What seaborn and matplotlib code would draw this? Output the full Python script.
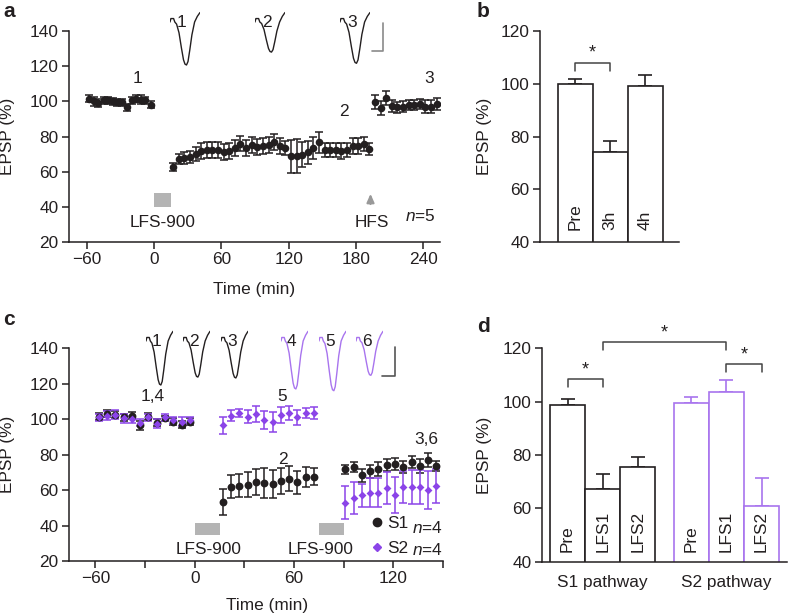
import numpy as np
import pandas as pd
import matplotlib
matplotlib.use("Agg")
import matplotlib.pyplot as plt
from matplotlib.patches import Rectangle
from matplotlib.lines import Line2D
import seaborn as sns

# ---------------- data ----------------
# panel a : time course (min) and EPSP (%)
a_pre_t = [-58, -54, -50, -45, -41, -37, -33, -29, -24, -20, -16, -12, -8, -3]
a_pre_y = [101.5, 100, 99, 100.5, 100.5, 100, 99.5, 99.5, 96.5, 100.5, 101.5, 101, 100.5, 98]
a_pre_e = [2, 2.5, 2.5, 2, 2, 2, 2, 2, 2, 2, 2, 2.5, 2, 2]
a_lfs_t = [17, 22, 27, 32, 37, 42, 47, 52, 57, 62, 67, 72, 77, 82, 87, 92, 97, 102,
           107, 112, 117, 122, 127, 132, 137, 142, 147, 152, 157, 162, 167, 172, 177, 182, 187, 192]
a_lfs_y = [62.7, 67.2, 67.8, 68.3, 70.2, 71.6, 72.1, 72.5, 72.1, 71, 71.6, 73.5, 76, 73.5, 75.4, 74,
           74.8, 75.4, 76.7, 74.8, 73.5, 68.7, 69, 69.7, 71, 73.5, 76.7, 72.5, 72.5, 72.5, 71.6, 72.5,
           74.4, 74.8, 76, 72.9]
a_lfs_e = [2.5, 3, 3.5, 3.5, 4, 4.5, 4.5, 4.5, 4.5, 4.5, 4.5, 4.5, 4.5, 4.5, 4.5, 4.5, 4.5, 4.5,
           4.5, 4.5, 4, 9.5, 9.5, 7, 6.5, 6.5, 6, 4, 4, 4, 4.5, 4, 4.5, 4.5, 4, 3.5]
a_hfs_t = [197, 202, 207, 212, 217, 222, 227, 232, 237, 242, 247, 252]
a_hfs_y = [99.5, 96, 102, 97.5, 96.5, 97, 98, 98, 98.5, 97, 97, 98.5]
a_hfs_e = [4, 4, 4, 3.5, 3, 3, 3, 3, 3, 3.5, 3.5, 3.5]
a_lfs_window = (0, 15)
a_hfs_time = 193

# panel b : bar summary
b_labels = ["Pre", "3h", "4h"]
b_vals = [99.8, 74.0, 99.1]
b_errs = [2.1, 4.4, 4.1]

# panel c : two pathways
c_pre_t = [-58, -53, -48, -43, -38, -33, -28, -23, -18, -13, -8, -3]
c_s1_pre = [101.5, 103, 102.5, 101, 102, 96.5, 101.5, 98, 100.5, 98.5, 97, 98.5]
c_s1_pre_e = [2, 2, 2, 2, 2, 2.5, 2, 2, 1.5, 2, 2, 2]
c_s2_pre = [101, 102, 102.5, 100.5, 100, 98, 101, 97.5, 101, 99.5, 98.5, 99.5]
c_s2_pre_e = [2, 2.5, 2.5, 2.5, 2, 2, 2, 2.5, 2, 2, 2.5, 2]
c_l1_t = [17, 22, 27, 32, 37, 42, 47, 52, 57, 62, 67, 72]
c_s1_l1 = [53.2, 62, 62.4, 63, 64.5, 63.8, 63.3, 65.2, 66.4, 64.5, 67.3, 67.6]
c_s1_l1_e = [7.3, 6.5, 6.5, 7, 7.5, 8.5, 8, 7.5, 7, 6.5, 5.5, 5]
c_s2_l1 = [96.5, 102, 103.5, 101.5, 103, 99.5, 98.5, 102.5, 103.5, 101, 103.5, 103.5]
c_s2_l1_e = [5, 3, 2.5, 3.5, 4.5, 5, 5.5, 4.5, 4, 4, 3, 3.5]
c_l2_t = [91, 96, 101, 106, 111, 116, 121, 126, 131, 136, 141, 146]
c_s1_l2 = [71.8, 73, 68.3, 70.5, 71.8, 74, 74.8, 73, 75.8, 73.5, 77, 73.5]
c_s1_l2_e = [2.5, 3, 3.5, 3.5, 4, 3.5, 3.5, 3.5, 3.5, 4, 4, 3]
c_s2_l2 = [53, 55.5, 57, 58.6, 58.6, 61, 57.2, 62, 61.6, 61.6, 60, 62.4]
c_s2_l2_e = [9.5, 9, 6.5, 8, 8, 9, 10, 9, 9.5, 9.5, 10.5, 9.5]
c_lfs_windows = [(0, 15), (75, 90)]

# panel d : bar summary per pathway
d_pathways = ["S1 pathway", "S2 pathway"]
d_conds = ["Pre", "LFS1", "LFS2"]
d_s1_vals = [98.7, 67.2, 75.4]
d_s1_errs = [2.4, 5.7, 4.0]
d_s2_vals = [99.6, 103.6, 60.9]
d_s2_errs = [2.3, 4.5, 10.4]

# inset EPSP waveform (normalised) and relative amplitudes
wf_t = [0.00, 0.03, 0.12, 0.16, 0.22, 0.30, 0.38, 0.45, 0.50, 0.55, 0.60, 0.66, 0.73, 0.82, 0.91, 1.00]
wf_v = [0.00, 0.08, 0.08, 0.00, -0.05, -0.25, -0.60, -0.88, -0.98, -1.00, -0.92, -0.65, -0.30, 0.00, 0.13, 0.22]
a_trace_amp = [1.0, 0.70, 0.96]
c_trace_amp = [1.0, 0.82, 0.84, 1.09, 1.13, 0.78]

# ---------------- style ----------------
sns.set_style("ticks")
plt.rcParams["font.family"] = ["Liberation Sans", "DejaVu Sans"]
plt.rcParams["mathtext.fontset"] = "custom"
plt.rcParams["mathtext.it"] = "Liberation Sans:italic"
plt.rcParams["mathtext.rm"] = "Liberation Sans"

INK = "#231f20"
PURPLE = "#8b44e8"
PURPLE_L = "#a874ee"
GRAY = "#b4b4b4"
FS = 12.4

W, H = 788, 615
fig = plt.figure(figsize=(W / 100, H / 100), dpi=100)


def rect(l, t, r, b):
    return [l / W, 1 - b / H, (r - l) / W, (b - t) / H]


def style(ax):
    sns.despine(ax=ax)
    for s in ("left", "bottom"):
        ax.spines[s].set_linewidth(1.1)
        ax.spines[s].set_color(INK)
    ax.tick_params(length=5, width=1.1, color=INK, labelsize=FS, pad=2.5, labelcolor=INK)


def errbars(ax, t, y, e, color, capsize=2.6):
    ax.errorbar(t, y, yerr=e, fmt="none", ecolor=color, elinewidth=1.1,
                capsize=capsize, capthick=1.1, zorder=2)


def traces(left_list, width, base, amp_px, amps, colors, labels):
    for left, amp, col, lab in zip(left_list, amps, colors, labels):
        top = base - 0.4 * amp_px
        bot = base + 1.2 * amp_px
        ia = fig.add_axes(rect(left, top, left + width, bot))
        v = np.array(wf_v)
        v = np.where(v < 0, v * amp, v)
        ia.plot(wf_t, v, color=col, lw=1.0)
        ia.set_xlim(0, 1)
        ia.set_ylim(-1.2, 0.4)
        ia.axis("off")
        ia.patch.set_alpha(0)
        ia.text(0.40, -0.02, lab, ha="center", va="center", fontsize=FS, color=INK)


# ---------------- panel a ----------------
axa = fig.add_axes(rect(69, 31, 440, 242))
df_a = pd.DataFrame({"t": a_pre_t + a_lfs_t + a_hfs_t, "y": a_pre_y + a_lfs_y + a_hfs_y,
                     "e": a_pre_e + a_lfs_e + a_hfs_e})
errbars(axa, df_a["t"], df_a["y"], df_a["e"], INK)
sns.scatterplot(data=df_a, x="t", y="y", color=INK, s=30, linewidth=0, ax=axa, zorder=3)
axa.set_xlim(-76, 255)
axa.set_ylim(20, 140)
axa.set_xticks([-60, 0, 60, 120, 180, 240])
axa.set_yticks(range(20, 141, 20))
style(axa)
axa.set_xlabel("Time (min)", fontsize=FS, color=INK)
axa.set_ylabel("EPSP (%)", fontsize=FS, color=INK)
axa.xaxis.set_label_coords(0.5, -0.19)
axa.yaxis.set_label_coords(-0.146, 0.5)
axa.add_patch(Rectangle((a_lfs_window[0], 40), a_lfs_window[1] - a_lfs_window[0], 8,
                        color=GRAY, lw=0))
axa.text(7.5, 31, "LFS-900", ha="center", va="center", fontsize=FS, color=INK)
axa.annotate("", xy=(a_hfs_time, 49), xytext=(a_hfs_time, 40),
             arrowprops=dict(arrowstyle="-|>,head_length=0.5,head_width=0.22", color="#999999", lw=1.5))
axa.text(194, 31, "HFS", ha="center", va="center", fontsize=FS, color=INK)
axa.text(237, 35, r"$\mathit{n}$=5", ha="center", va="center", fontsize=FS, color=INK)
axa.text(-15, 113, "1", ha="center", va="center", fontsize=FS, color=INK)
axa.text(169, 94, "2", ha="center", va="center", fontsize=FS, color=INK)
axa.text(245, 113, "3", ha="center", va="center", fontsize=FS, color=INK)
traces([170, 255, 340], 30, 22, 43, a_trace_amp, [INK] * 3, ["1", "2", "3"])
fig.add_artist(Line2D([372 / W, 383 / W, 383 / W], [1 - 51 / H, 1 - 51 / H, 1 - 23 / H],
                      color="#8a8a8a", lw=1.2))
fig.text(3 / W, 1 - 17 / H, "a", fontsize=15, fontweight="bold", va="baseline", color=INK)

# ---------------- panel b ----------------
axb = fig.add_axes(rect(540, 31, 679, 242))
df_b = pd.DataFrame({"cond": b_labels, "val": b_vals})
sns.barplot(data=df_b, x="cond", y="val", color="white", edgecolor=INK, linewidth=1.2,
            width=1.0, errorbar=None, ax=axb, zorder=1)
xs_b = [p.get_x() + p.get_width() / 2 for p in axb.patches]
axb.errorbar(xs_b, b_vals, yerr=[[0] * 3, b_errs], fmt="none", ecolor=INK, elinewidth=1.2,
             capsize=5, capthick=1.2, zorder=0)
axb.set_xlim(-1.0, 2.97)
axb.set_ylim(40, 120)
axb.set_yticks(range(40, 121, 20))
style(axb)
axb.set_xticks([])
axb.set_xlabel("")
axb.set_ylabel("EPSP (%)", fontsize=FS, color=INK)
axb.yaxis.set_label_coords(-0.345, 0.5)
for x, lab in zip(xs_b, b_labels):
    axb.text(x, 44.5, lab, rotation=90, ha="center", va="bottom", fontsize=FS, color=INK)
axb.plot([xs_b[0], xs_b[0], xs_b[1], xs_b[1]], [104.8, 107.7, 107.7, 104.8], color="#444", lw=1.1)
axb.text((xs_b[0] + xs_b[1]) / 2, 108.3, "*", ha="center", va="bottom", fontsize=13, color=INK)
fig.text(477 / W, 1 - 16.7 / H, "b", fontsize=15, fontweight="bold", va="baseline", color=INK)

# ---------------- panel c ----------------
axc = fig.add_axes(rect(69, 348.3, 443, 561))
df_c1 = pd.DataFrame({"t": c_pre_t + c_l1_t + c_l2_t, "y": c_s1_pre + c_s1_l1 + c_s1_l2,
                      "e": c_s1_pre_e + c_s1_l1_e + c_s1_l2_e})
df_c2 = pd.DataFrame({"t": c_pre_t + c_l1_t + c_l2_t, "y": c_s2_pre + c_s2_l1 + c_s2_l2,
                      "e": c_s2_pre_e + c_s2_l1_e + c_s2_l2_e})
errbars(axc, df_c1["t"], df_c1["y"], df_c1["e"], INK, capsize=2.8)
sns.scatterplot(data=df_c1, x="t", y="y", color=INK, s=32, linewidth=0, ax=axc, zorder=3)
errbars(axc, df_c2["t"], df_c2["y"], df_c2["e"], PURPLE, capsize=2.8)
sns.scatterplot(data=df_c2, x="t", y="y", color=PURPLE, marker="D", s=16, linewidth=0, ax=axc, zorder=4)
axc.set_xlim(-76, 150)
axc.set_ylim(20, 140)
axc.set_xticks(range(-60, 151, 30))
axc.set_xticklabels(["\u221260", "", "0", "", "60", "", "120", ""])
axc.set_yticks(range(20, 141, 20))
style(axc)
axc.set_xlabel("Time (min)", fontsize=FS, color=INK)
axc.set_ylabel("EPSP (%)", fontsize=FS, color=INK)
axc.xaxis.set_label_coords(0.53, -0.175)
axc.yaxis.set_label_coords(-0.144, 0.5)
for (t0, t1), tx in zip(c_lfs_windows, [8.3, 76]):
    axc.add_patch(Rectangle((t0, 34.7), t1 - t0, 7, color=GRAY, lw=0))
    axc.text(tx, 26.7, "LFS-900", ha="center", va="center", fontsize=FS, color=INK)
axc.text(-25.7, 112.7, "1,4", ha="center", va="center", fontsize=FS, color=INK)
axc.text(53, 112.7, "5", ha="center", va="center", fontsize=FS, color=INK)
axc.text(53, 77.4, "2", ha="center", va="center", fontsize=FS, color=INK)
axc.text(140, 88.3, "3,6", ha="center", va="center", fontsize=FS, color=INK)
leg = axc.legend(handles=[Line2D([], [], marker="o", ls="", color=INK, markersize=6),
                          Line2D([], [], marker="D", ls="", color=PURPLE, markersize=4)],
                 labels=["S1", "S2"], loc="upper left", bbox_to_anchor=(372 / W, 1 - 516 / H),
                 bbox_transform=fig.transFigure, frameon=False, fontsize=FS, handlelength=0.6,
                 handletextpad=0.3, labelspacing=0.56, borderpad=0, borderaxespad=0)
for txt in leg.get_texts():
    txt.set_color(INK)
axc.text(150, 38.5, r"$\mathit{n}$=4", ha="right", va="center", fontsize=FS, color=INK)
axc.text(150, 26.0, r"$\mathit{n}$=4", ha="right", va="center", fontsize=FS, color=INK)
traces([146, 183, 221, 281, 319, 356], 27, 341, 44, c_trace_amp,
       [INK] * 3 + [PURPLE_L] * 3, ["1", "2", "3", "4", "5", "6"])
fig.add_artist(Line2D([382 / W, 395 / W, 395 / W], [1 - 376 / H, 1 - 376 / H, 1 - 347 / H],
                      color="#555555", lw=1.2))
fig.text(3 / W, 1 - 325 / H, "c", fontsize=15, fontweight="bold", va="baseline", color=INK)

# ---------------- panel d ----------------
axd = fig.add_axes(rect(541.7, 348.3, 787, 561.7))
df_d = pd.DataFrame({"pathway": [d_pathways[0]] * 3 + [d_pathways[1]] * 3,
                     "cond": d_conds * 2, "val": d_s1_vals + d_s2_vals,
                     "err": d_s1_errs + d_s2_errs})
sns.barplot(data=df_d, x="pathway", y="val", hue="cond", order=d_pathways, hue_order=d_conds,
            palette={c: "white" for c in d_conds}, width=0.852, gap=0, errorbar=None,
            linewidth=1.2, legend=False, ax=axd, zorder=1)
bars = sorted([p for p in axd.patches if p.get_height() > 0], key=lambda p: p.get_x())
xs_d = [p.get_x() + p.get_width() / 2 for p in bars]
for p, xc in zip(bars, xs_d):
    p.set_edgecolor(INK if xc < 0.5 else PURPLE_L)
for i, (xc, v, e) in enumerate(zip(xs_d, d_s1_vals + d_s2_vals, d_s1_errs + d_s2_errs)):
    col = INK if i < 3 else PURPLE_L
    axd.errorbar([xc], [v], yerr=[[0], [e]], fmt="none", ecolor=col, elinewidth=1.2,
                 capsize=5, capthick=1.2, zorder=0)
axd.set_xlim(-0.493, 1.49)
axd.set_ylim(40, 120)
axd.set_yticks(range(40, 121, 20))
style(axd)
axd.tick_params(axis="x", length=0, pad=9.5)
axd.set_xlabel("")
axd.set_ylabel("EPSP (%)", fontsize=FS, color=INK)
axd.yaxis.set_label_coords(-0.204, 0.5)
for xc, lab in zip(xs_d, d_conds * 2):
    axd.text(xc, 43.7, lab, rotation=90, ha="center", va="bottom", fontsize=FS, color=INK)


def bracket(ax, x0, x1, ylo, yhi, ystar):
    ax.plot([x0, x0, x1, x1], [ylo, yhi, yhi, ylo], color="#444", lw=1.1, clip_on=False)
    ax.text((x0 + x1) / 2, ystar, "*", ha="center", va="bottom", fontsize=13, color=INK, clip_on=False)


bracket(axd, xs_d[0], xs_d[1], 105.4, 108.5, 108.8)
bracket(axd, xs_d[1], xs_d[4], 119.4, 122.2, 122.5)
bracket(axd, xs_d[4], xs_d[5], 111.2, 114.0, 114.3)
fig.text(477 / W, 1 - 332 / H, "d", fontsize=15, fontweight="bold", va="baseline", color=INK)

fig.savefig("out.png", dpi=100)
